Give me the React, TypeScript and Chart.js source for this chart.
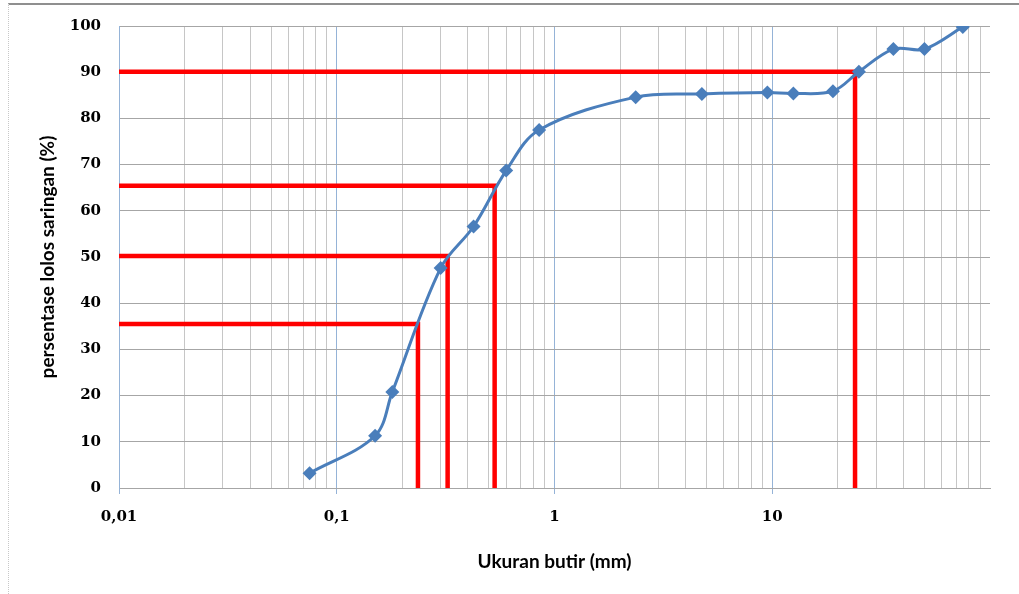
import React, { useEffect, useRef } from "react";
import { Chart, registerables } from "chart.js";

Chart.register(...registerables);

// Sieve analysis data
const sieveSizes = [0.075, 0.15, 0.18, 0.3, 0.425, 0.6, 0.85, 2.36, 4.75, 9.5, 12.5, 19, 25, 36, 50, 75];
const percentPassing = [3.2, 11.3, 20.8, 47.6, 56.6, 68.7, 77.5, 84.6, 85.3, 85.6, 85.4, 85.9, 90.1, 95.0, 95.0, 99.8];

// Red reference lines (D-values): percentage level and matching grain size
const refLevels = [35.5, 50.2, 65.4, 90.1];
const refSizes = [0.236, 0.323, 0.531, 24.0];

// Axis tick labels
const xMajorTicks = [0.01, 0.1, 1, 10];
const xMajorLabels = ["0,01", "0,1", "1", "10"];
const xMin = 0.01;
const xMax = 100;
const yTicks = [0, 10, 20, 30, 40, 50, 60, 70, 80, 90, 100];

const xTitle = "Ukuran butir (mm)";
const yTitle = "persentase lolos saringan (%)";

const isMajor = (v: number) => Math.abs(Math.log10(v) - Math.round(Math.log10(v))) < 1e-9;

const xGridValues: number[] = (() => {
  const out: number[] = [];
  for (const d of xMajorTicks) {
    for (let k = 1; k <= 9; k++) out.push(Number((k * d).toPrecision(3)));
  }
  out.push(xMax);
  return out;
})();

export default function App() {
  const ref = useRef<HTMLCanvasElement | null>(null);

  useEffect(() => {
    if (!ref.current) return;
    const redSets = refLevels.map((lvl, i) => ({
      label: "ref" + i,
      data: [
        { x: xMin, y: lvl },
        { x: refSizes[i], y: lvl },
        { x: refSizes[i], y: 0 },
      ],
      showLine: true,
      borderColor: "#ff0000",
      backgroundColor: "#ff0000",
      borderWidth: 4.5,
      pointRadius: 0,
      tension: 0,
      borderJoinStyle: "miter" as const,
      borderCapStyle: "butt" as const,
    }));

    const chart = new Chart(ref.current, {
      type: "scatter",
      data: {
        datasets: [
          {
            label: "lolos",
            data: sieveSizes.map((s, i) => ({ x: s, y: percentPassing[i] })),
            showLine: true,
            borderColor: "#4a7ebb",
            backgroundColor: "#4a7ebb",
            borderWidth: 3,
            pointStyle: "rectRot",
            pointRadius: 7,
            pointBorderWidth: 0,
            tension: 0.35,
          },
          ...redSets,
        ],
      },
      options: {
        animation: false,
        responsive: false,
        maintainAspectRatio: false,
        layout: { padding: { left: 0, top: 26, right: 29, bottom: 0 } },
        plugins: {
          legend: { display: false },
          tooltip: { enabled: false },
        },
        scales: {
          x: {
            type: "logarithmic",
            min: xMin,
            max: xMax,
            afterBuildTicks: (scale: any) => {
              scale.ticks = xGridValues.map((v) => ({ value: v }));
            },
            afterFit: (scale: any) => {
              scale.height = 106;
            },
            ticks: {
              autoSkip: false,
              maxRotation: 0,
              minRotation: 0,
              padding: 14,
              color: "#000",
              font: { family: "DejaVu Serif", weight: "bold", size: 15 },
              callback: (v: any) => {
                const idx = xMajorTicks.findIndex((m) => Math.abs(m - Number(v)) < 1e-12);
                return idx >= 0 ? xMajorLabels[idx] : "";
              },
            },
            grid: {
              color: (ctx: any) => {
                const v = ctx.tick ? ctx.tick.value : 0;
                if (v >= xMax) return "rgba(0,0,0,0)";
                return isMajor(v) ? "#95b3d7" : "#c6c6c6";
              },
              tickColor: (ctx: any) => {
                const v = ctx.tick ? ctx.tick.value : 0;
                if (v >= xMax) return "rgba(0,0,0,0)";
                return isMajor(v) ? "#95b3d7" : "rgba(0,0,0,0)";
              },
              lineWidth: 1,
              tickLength: 6,
            },
            border: { display: true, color: "#a6a6a6", width: 1 },
            title: {
              display: true,
              text: xTitle,
              color: "#000",
              font: { family: "Lato", weight: "bold", size: 19 },
              padding: { top: 0, bottom: 21 },
            },
          },
          y: {
            type: "linear",
            min: 0,
            max: 100,
            afterBuildTicks: (scale: any) => {
              scale.ticks = yTicks.map((v) => ({ value: v }));
            },
            afterFit: (scale: any) => {
              scale.width = 119;
            },
            ticks: {
              padding: 13,
              color: "#000",
              font: { family: "DejaVu Serif", weight: "bold", size: 15 },
            },
            grid: {
              color: "#a6a6a6",
              lineWidth: 1,
              tickLength: 5,
              tickColor: "rgba(0,0,0,0)",
            },
            border: { display: true, color: "#95b3d7", width: 1 },
            title: {
              display: true,
              text: yTitle,
              color: "#000",
              font: { family: "Lato", weight: "bold", size: 19 },
              padding: { top: 36, bottom: 0 },
            },
          },
        },
      },
    } as any);
    return () => chart.destroy();
  }, []);

  return (
    <div style={{ position: "fixed", left: 0, top: 0, width: 1019, height: 594, background: "#fff" }}>
      <div
        style={{
          position: "absolute",
          left: 8,
          top: 3,
          right: 0,
          bottom: 0,
          borderTop: "2px solid #8f8f8f",
          borderLeft: "1px dotted #c8c8c8",
        }}
      />
      <canvas ref={ref} width={1019} height={594} style={{ position: "absolute", left: 0, top: 0 }} />
    </div>
  );
}
